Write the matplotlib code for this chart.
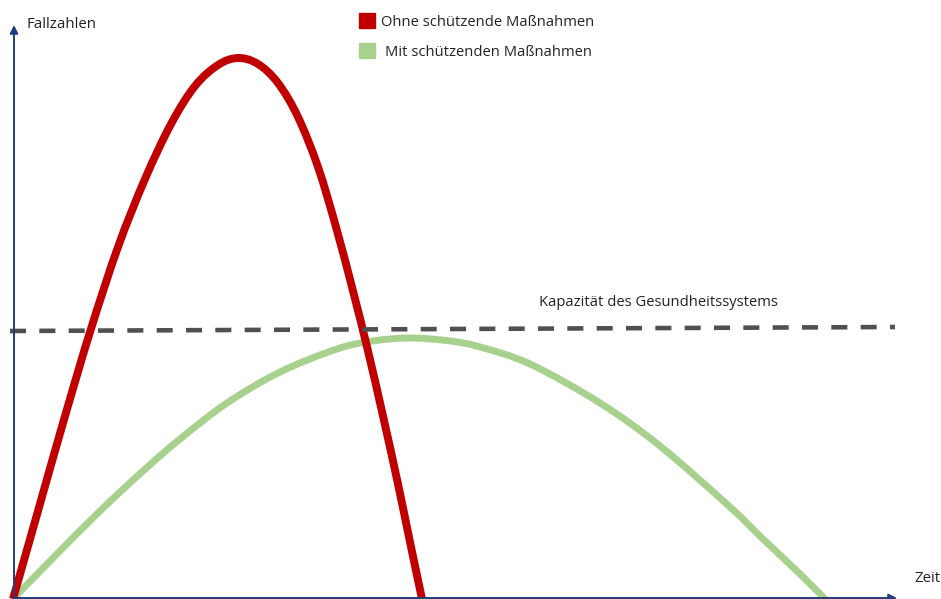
from matplotlib import pyplot as plt
from matplotlib.patches import Rectangle, PathPatch
from matplotlib.path import Path
import numpy as np

plt.rcParams['font.family'] = ['Open Sans', 'DejaVu Sans']

# Werte (Zeit, Fallzahlen)
red_t = [0, 25, 50, 77, 105, 132, 158, 182, 205, 225, 245, 265, 285, 305, 323, 340, 355, 370, 385, 397, 409]
red_y = [0, 88, 176, 267, 352, 420, 475, 513, 534, 541, 535, 516, 482, 432, 372, 308, 248, 183, 115, 57, 0]

green_t = [0, 40, 87, 130, 167, 214, 267, 324, 360, 397, 437, 467, 517, 587, 647, 717, 750, 787, 812]
green_y = [0, 41, 88, 128, 160, 196, 227, 250, 258, 261, 258, 252, 235, 196, 153, 92, 60, 25, 0]

cap_t = [-3, 882]
cap_y = [268, 272]

labels = ["Ohne schützende Maßnahmen", "Mit schützenden Maßnahmen"]
colours = ["#c00000", "#a9d18e"]

navy = "#1f3d7a"


def smooth_path(xs, ys):
    # weiche Kurve durch die Punkte (Catmull-Rom als Bezier)
    p = np.column_stack([xs, ys]).astype(float)
    p = np.vstack([p[0], p, p[-1]])
    verts = [p[1]]
    codes = [Path.MOVETO]
    for i in range(1, len(p) - 2):
        c1 = p[i] + (p[i + 1] - p[i - 1]) / 6
        c2 = p[i + 1] - (p[i + 2] - p[i]) / 6
        verts += [c1, c2, p[i + 1]]
        codes += [Path.CURVE4] * 3
    return Path(verts, codes)


fig = plt.figure(figsize=(9.41, 5.99), dpi=100)
ax = fig.add_axes([0, 0, 1, 1])
ax.set_xlim(-13, 928)
ax.set_ylim(0, 599)
ax.axis("off")

# Kapazitaetslinie
ax.plot(cap_t, cap_y, color="#505050", lw=3.3, dashes=(3.5, 2.9), solid_capstyle="butt")

ax.add_patch(PathPatch(smooth_path(green_t, green_y), fill=False, edgecolor=colours[1], lw=5.0))
ax.add_patch(PathPatch(smooth_path(red_t, red_y), fill=False, edgecolor=colours[0], lw=5.7))

# Achsen mit Pfeilen
ax.annotate("", xy=(1, 574), xytext=(1, -5),
            arrowprops=dict(arrowstyle="-|>", color=navy, lw=1.4, mutation_scale=12, shrinkA=0, shrinkB=0))
ax.annotate("", xy=(884, 1), xytext=(0, 1),
            arrowprops=dict(arrowstyle="-|>", color=navy, lw=1.4, mutation_scale=12, shrinkA=0, shrinkB=0))

ax.text(14, 571, "Fallzahlen", fontsize=10.8, color="#222222", va="baseline")
ax.text(901, 17, "Zeit", fontsize=10.8, color="#222222", va="baseline")
ax.text(526, 293, "Kapazität des Gesundheitssystems", fontsize=10.6, color="#222222", va="baseline")

# Legende
for i, (lab, col) in enumerate(zip(labels, colours)):
    y0 = 571 - i * 30
    ax.add_patch(Rectangle((346, y0), 16, 15, color=col))
    ax.text(368 + i * 4, y0 + 2, lab, fontsize=10.6, color="#222222", va="baseline")

plt.savefig("out.png", dpi=100)
